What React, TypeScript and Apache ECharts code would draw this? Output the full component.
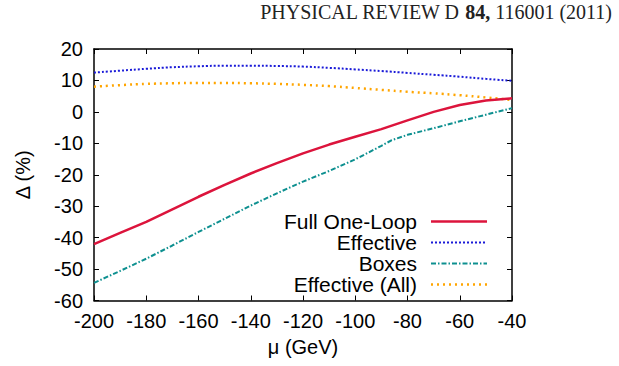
import React, { useEffect, useRef } from "react";
import * as echarts from "echarts";

const mu = [-200, -190, -180, -170, -160, -150, -140, -130, -120, -110, -100, -90, -80, -70, -60, -50, -40];
const fullOneLoop = [-42.1, -38.5, -35.0, -31.0, -27.0, -23.2, -19.6, -16.3, -13.2, -10.4, -7.9, -5.5, -2.7, 0.0, 2.2, 3.6, 4.3];
const effective = [12.5, 13.1, 13.7, 14.2, 14.5, 14.7, 14.7, 14.6, 14.4, 14.0, 13.5, 13.0, 12.4, 11.8, 11.2, 10.5, 9.9];
const effectiveAll = [8.0, 8.5, 8.9, 9.1, 9.2, 9.2, 9.1, 8.9, 8.6, 8.2, 7.6, 7.0, 6.4, 5.9, 5.3, 4.6, 3.8];
const muBoxes = [-200, -190, -180, -170, -160, -150, -140, -130, -120, -110, -100, -90, -86, -80, -70, -60, -50, -40];
const boxes = [-54.4, -50.6, -46.7, -42.5, -38.2, -34.0, -29.8, -25.9, -22.2, -18.8, -15.1, -10.8, -9.0, -7.3, -5.2, -3.0, -0.9, 1.2];

const seriesNames = ["Full One-Loop", "Effective", "Boxes", "Effective (All)"];
const seriesX = [mu, mu, muBoxes, mu];
const seriesData = [fullOneLoop, effective, boxes, effectiveAll];
const colors = ["#dc143c", "#1a1ad8", "#0e9090", "#ffa500"];
const dashes: any[] = ["solid", [2, 2], [5, 2, 1.5, 2], [2, 4]];
const widths = [2.5, 2, 2, 2.5];

const FONT = "'Liberation Sans', Arial, Helvetica, sans-serif";
const SERIF = "'Liberation Serif', 'Times New Roman', serif";

export default function App() {
  const ref = useRef<HTMLDivElement>(null);
  useEffect(() => {
    document.body.style.margin = "0";
    if (!ref.current) return;
    const chart = echarts.init(ref.current, null, { renderer: "svg" });
    const gridL = 94, gridR = 512, gridT = 49, gridB = 300.5;
    const legendRows = [221.5, 242.5, 263.5, 284.5];
    const graphics: any[] = [
      {
        type: "text",
        right: 7,
        top: 2,
        style: {
          rich: {
            n: { fontFamily: SERIF, fontSize: 20, fill: "#222" },
            b: { fontFamily: SERIF, fontSize: 20, fontWeight: "bold", fill: "#222" },
          },
          text: "{n|PHYSICAL REVIEW D }{b|84,}{n| 116001 (2011)}",
        },
      },
    ];
    seriesNames.forEach((name, i) => {
      graphics.push({
        type: "text",
        x: 417,
        y: legendRows[i],
        style: {
          text: name,
          fontFamily: FONT,
          fontSize: 21,
          fill: "#000",
          align: "right",
          verticalAlign: "middle",
        },
      });
      graphics.push({
        type: "line",
        shape: { x1: 431, y1: legendRows[i], x2: 487, y2: legendRows[i] },
        style: { stroke: colors[i], lineWidth: widths[i], lineDash: dashes[i] === "solid" ? null : dashes[i] },
      });
    });
    const axisLabel = { fontFamily: FONT, fontSize: 20, color: "#000" };
    const lineStyle = { color: "#000", width: 1.5 };
    const tick = { show: true, inside: true, length: 5, lineStyle: { color: "#000", width: 1 } };
    const option: any = {
      animation: false,
      grid: { left: gridL, top: gridT, width: gridR - gridL, height: gridB - gridT, containLabel: false },
      xAxis: [
        {
          type: "value",
          min: -200,
          max: -40,
          interval: 20,
          position: "bottom",
          axisLine: { show: true, onZero: false, lineStyle },
          axisTick: tick,
          splitLine: { show: false },
          axisLabel: { ...axisLabel, margin: 10 },
          name: "μ (GeV)",
          nameLocation: "middle",
          nameGap: 36,
          nameTextStyle: { fontFamily: FONT, fontSize: 20, color: "#000" },
        },
        {
          type: "value",
          min: -200,
          max: -40,
          interval: 20,
          position: "top",
          axisLine: { show: true, onZero: false, lineStyle },
          axisTick: tick,
          splitLine: { show: false },
          axisLabel: { show: false },
        },
      ],
      yAxis: [
        {
          type: "value",
          min: -60,
          max: 20,
          interval: 10,
          position: "left",
          axisLine: { show: true, onZero: false, lineStyle },
          axisTick: tick,
          splitLine: { show: false },
          axisLabel: { ...axisLabel, margin: 11 },
          name: "Δ (%)",
          nameLocation: "middle",
          nameGap: 61,
          nameRotate: 90,
          nameTextStyle: { fontFamily: FONT, fontSize: 20, color: "#000" },
        },
        {
          type: "value",
          min: -60,
          max: 20,
          interval: 10,
          position: "right",
          axisLine: { show: true, onZero: false, lineStyle },
          axisTick: tick,
          splitLine: { show: false },
          axisLabel: { show: false },
        },
      ],
      series: seriesNames.map((name, i) => ({
        name,
        type: "line",
        xAxisIndex: 0,
        yAxisIndex: 0,
        data: seriesX[i].map((m, j) => [m, seriesData[i][j]]),
        showSymbol: false,
        symbol: "none",
        smooth: i === 0 || i === 2 ? false : true,
        lineStyle: { color: colors[i], width: widths[i], type: dashes[i] },
        z: 4 - i,
      })),
      graphic: graphics,
    };
    chart.setOption(option);
    return () => chart.dispose();
  }, []);
  return <div ref={ref} style={{ width: 619, height: 366 }} />;
}
